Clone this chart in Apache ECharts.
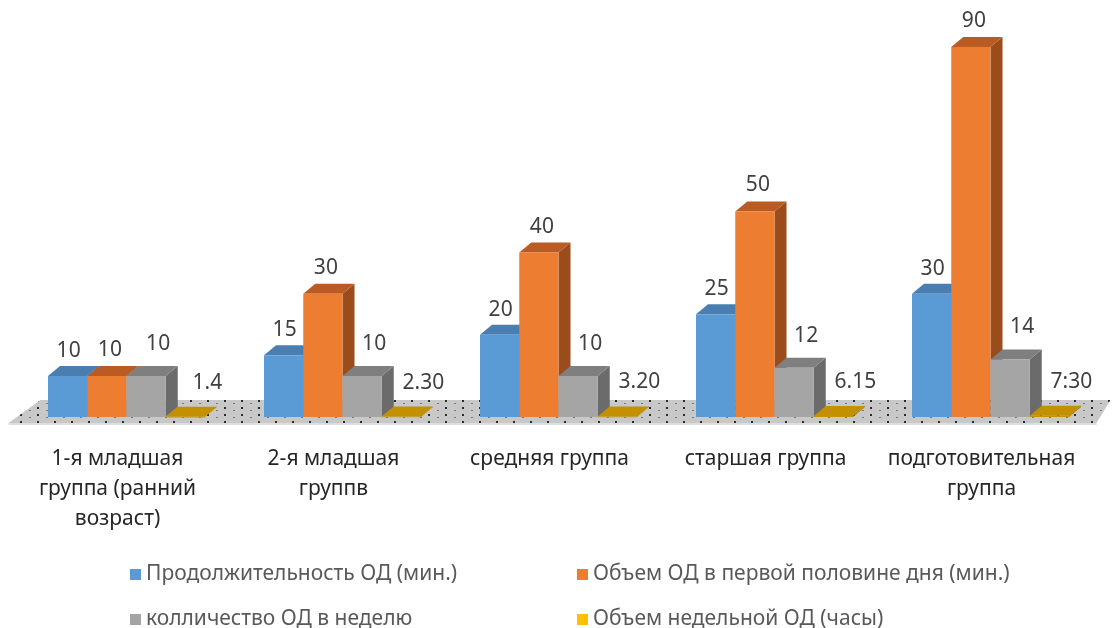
<!DOCTYPE html>
<html>
<head>
<meta charset="utf-8">
<script src="https://cdn.jsdelivr.net/npm/echarts@6/dist/echarts.min.js"></script>
<style>
html,body{margin:0;padding:0;background:#fff;}
#chart{width:1112px;height:628px;}
</style>
</head>
<body>
<div id="chart"></div>
<script>
// ---- data ----
const categories = ['1-я младшая\nгруппа (ранний\nвозраст)', '2-я младшая\nгруппв', 'средняя группа', 'старшая группа', 'подготовительная\nгруппа'];
const seriesNames = ['Продолжительность ОД (мин.)', 'Объем ОД в первой половине дня (мин.)', 'колличество ОД в неделю', 'Объем недельной ОД (часы)'];
const durationMin = [10, 15, 20, 25, 30];
const morningVolumeMin = [10, 30, 40, 50, 90];
const weeklyCount = [10, 10, 10, 12, 14];
// weekly hours stored as time (fraction of a day) -> nearly flat bars
const weeklyHours = [0.069, 0.104, 0.139, 0.26, 0.3125];
const weeklyHoursLabels = ['1.4', '2.30', '3.20', '6.15', '7:30'];

// ---- styles ----
const FONT = "'Noto Sans', 'Open Sans', sans-serif";
const palette = [
  {front: '#5b9bd5', top: '#4a7eb0', side: '#3f6e9c'},
  {front: '#ed7d31', top: '#b95b22', side: '#9a4c1c'},
  {front: '#a5a5a5', top: '#7f7f7f', side: '#6b6b6b'},
  {front: '#c59400', top: '#c39100', side: '#a07700'}
];
const legendColors = ['#5b9bd5', '#ed7d31', '#a5a5a5', '#ffc000'];
const labelOffsets = [[1, -25], [3, -26], [12, -32], [22, -34]];
const legendSpots = [[130, 564], [577, 564], [130, 609], [577, 609]];
const DX = 12, DY = 10;

const valueSets = [durationMin, morningVolumeMin, weeklyCount, weeklyHours];
const labelSets = [durationMin.map(String), morningVolumeMin.map(String), weeklyCount.map(String), weeklyHoursLabels];

// floor pattern
const pat = document.createElement('canvas');
pat.width = 17; pat.height = 7;
const pc = pat.getContext('2d');
pc.fillStyle = '#c8c8c8'; pc.fillRect(0, 0, 17, 7);
pc.fillStyle = '#2a2a2a'; pc.fillRect(3, 1, 2, 2);
pc.fillStyle = '#7a7a7a'; pc.fillRect(12, 4, 2, 1);

const chart = echarts.init(document.getElementById('chart'), null, {renderer: 'canvas'});

function barSeries(si) {
  return {
    type: 'custom',
    name: seriesNames[si],
    itemStyle: {color: legendColors[si]},
    data: valueSets[si].map((v, i) => [i, v]),
    z: 3 + si,
    renderItem: function (params, api) {
      const ci = api.value(0), v = api.value(1);
      const band = api.size([1, 0])[0];
      const barW = band * (157 / 216) / 4;
      const c = api.coord([ci, 0]);
      const base = c[1];
      const top = api.coord([ci, v])[1];
      const x1 = c[0] + (si - 2) * barW;
      const x2 = x1 + barW;
      const col = palette[si];
      const off = labelOffsets[si];
      return {
        type: 'group',
        children: [
          {type: 'polygon', shape: {points: [[x2, top], [x2 + DX, top - DY], [x2 + DX, base - DY], [x2, base]]}, style: {fill: col.side}},
          {type: 'polygon', shape: {points: [[x1, top], [x2, top], [x2 + DX, top - DY], [x1 + DX, top - DY]]}, style: {fill: col.top}},
          {type: 'rect', shape: {x: x1, y: top, width: barW, height: Math.max(base - top, 0.8)}, style: {fill: col.front}},
          {type: 'text', x: (x1 + x2) / 2 + off[0], y: top + off[1],
           style: {text: labelSets[si][params.dataIndex], fill: '#404040', font: '21px ' + FONT, align: 'center', verticalAlign: 'middle'}}
        ]
      };
    }
  };
}

const floorSeries = {
  type: 'custom',
  name: 'floor',
  data: [[0, 0]],
  z: 1,
  silent: true,
  renderItem: function (params, api) {
    const band = api.size([1, 0])[0];
    const l = api.coord([0, 0])[0] - band / 2;
    const r = api.coord([categories.length - 1, 0])[0] + band / 2;
    const y0 = api.coord([0, 0])[1];
    return {
      type: 'group',
      children: [
        {type: 'polygon', shape: {points: [[l - 10, y0 + 6], [r - 2, y0 + 6], [r - 2, y0 + 8], [l - 10, y0 + 8]]}, style: {fill: '#dedede'}},
        {type: 'polygon', shape: {points: [[l - 10, y0 + 6], [r - 2, y0 + 6], [r + 12, y0 - 17], [l + 22, y0 - 17]]},
         style: {fill: {image: pat, repeat: 'repeat'}}}
      ]
    };
  }
};

const legendText = {color: '#595959', fontSize: 21, fontFamily: FONT};
const legends = seriesNames.map((n, i) => ({
  left: legendSpots[i][0], top: legendSpots[i][1], padding: 0,
  itemWidth: 11, itemHeight: 11, icon: 'rect', itemGap: 0,
  textStyle: legendText, data: [n]
}));

chart.setOption({
  animation: false,
  backgroundColor: '#ffffff',
  grid: {left: 18.5, right: 13.5, top: 6, bottom: 211},
  xAxis: {
    type: 'category',
    data: categories,
    axisLine: {show: false},
    axisTick: {show: false},
    splitLine: {show: false},
    axisLabel: {
      interval: 0, margin: 27, color: '#262626', fontSize: 21, lineHeight: 30,
      fontFamily: FONT, padding: [0, 18, 0, 0]
    }
  },
  yAxis: {type: 'value', min: 0, max: 100, show: false},
  legend: legends,
  series: [floorSeries, barSeries(0), barSeries(1), barSeries(2), barSeries(3)]
});
</script>
</body>
</html>
